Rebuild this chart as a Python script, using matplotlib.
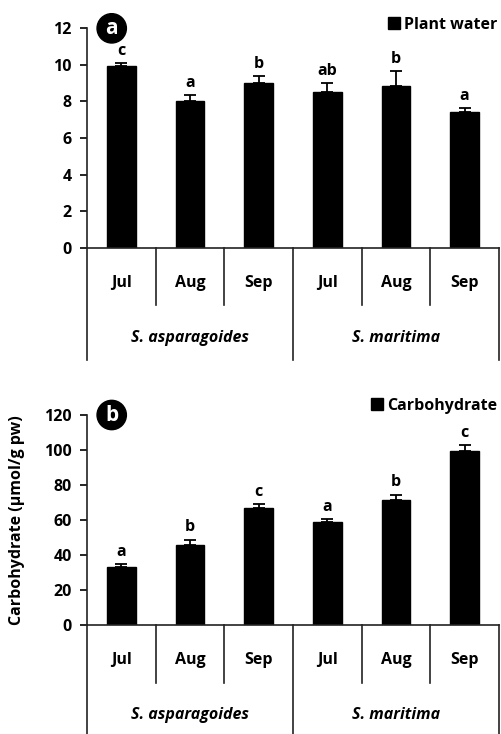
import numpy as np
import matplotlib.pyplot as plt
from matplotlib.lines import Line2D

plt.rcParams['font.family'] = ['Open Sans', 'DejaVu Sans']
plt.rcParams['font.weight'] = 'bold'

months = ['Jul', 'Aug', 'Sep', 'Jul', 'Aug', 'Sep']
species = ['S. asparagoides', 'S. maritima']

water = [9.93, 8.05, 9.0, 8.5, 8.85, 7.45]
water_err = [0.15, 0.3, 0.4, 0.5, 0.8, 0.2]
water_letters = ['c', 'a', 'b', 'ab', 'b', 'a']

carb = [33.2, 45.6, 67.0, 58.6, 71.2, 99.5]
carb_err = [1.6, 3.2, 2.0, 1.8, 3.3, 3.2]
carb_letters = ['a', 'b', 'c', 'a', 'b', 'c']


def panel(ax, vals, errs, letters, ymax, step, tag, legend_label, leg_pos,
          month_sep, species_sep, month_y, species_y):
    x = np.arange(len(vals))
    ax.bar(x, vals, width=0.42, color='black', edgecolor='black', zorder=2)
    ax.errorbar(x, vals, yerr=[np.zeros(len(errs)), errs], fmt='none',
                ecolor='black', elinewidth=1.3, capsize=4, capthick=1.3, zorder=3)
    for xi, v, e, t in zip(x, vals, errs, letters):
        ax.annotate(t, (xi, v + e), xytext=(0, 3), textcoords='offset points',
                    ha='center', va='bottom', fontsize=11.5, fontweight='bold')

    ax.set_xlim(-0.5, 5.5)
    ax.set_ylim(0, ymax)
    ax.set_yticks(np.arange(0, ymax + 0.1, step))
    ax.tick_params(axis='y', direction='out', length=5, width=1.2,
                   labelsize=11.5, pad=6)
    for lab in ax.get_yticklabels():
        lab.set_fontweight('bold')
    ax.set_xticks([])
    for s in ['top', 'right']:
        ax.spines[s].set_visible(False)
    ax.spines['left'].set_linewidth(1.2)
    ax.spines['bottom'].set_linewidth(1.2)
    ax.spines['left'].set_color('#222222')
    ax.spines['bottom'].set_color('#222222')

    # category table under the axis
    trans = ax.get_xaxis_transform()
    for xs in [0.5, 1.5, 3.5, 4.5]:
        ax.plot([xs, xs], [0, month_sep], color='#222222', lw=1.2,
                transform=trans, clip_on=False)
    for xs in [-0.5, 2.5, 5.5]:
        ax.plot([xs, xs], [0, species_sep], color='#222222', lw=1.2,
                transform=trans, clip_on=False)
    for xi, m in zip(x, months):
        ax.text(xi, month_y, m, transform=trans, ha='center', va='center',
                fontsize=11.5, fontweight='bold')
    for xi, sp in zip([1, 4], species):
        ax.text(xi, species_y, sp, transform=trans, ha='center', va='center',
                fontsize=11.5, fontweight='bold', style='italic')

    # panel tag in a black disc
    ax.text(0.06, 1.0, tag, transform=ax.transAxes, ha='center', va='center',
            color='white', fontsize=15, fontweight='bold',
            bbox=dict(boxstyle='circle,pad=0.2', fc='black', ec='black'))

    h = Line2D([], [], marker='s', color='black', ls='none', markersize=8)
    ax.legend([h], [legend_label], loc='center right', bbox_to_anchor=leg_pos,
              bbox_transform=ax.figure.transFigure, frameon=False,
              handletextpad=0.1, handlelength=1.0, borderaxespad=0, borderpad=0,
              prop={'weight': 'bold', 'size': 11.5})


fig = plt.figure(figsize=(5.02, 7.34), dpi=100)
ax1 = fig.add_axes([0.1733, 0.6625, 0.8207, 0.2989])
ax2 = fig.add_axes([0.1733, 0.1485, 0.8207, 0.2861])

panel(ax1, water, water_err, water_letters, 12, 2, 'a', 'Plant water',
      (0.99, 0.966), -0.261, -0.512, -0.161, -0.41)
panel(ax2, carb, carb_err, carb_letters, 120, 20, 'b', 'Carbohydrate',
      (0.99, 0.447), -0.276, -0.52, -0.167, -0.429)

ax2.set_ylabel('Carbohydrate (μmol/g pw)', fontsize=11.5, fontweight='bold')
ax2.yaxis.set_label_coords(-0.15, 0.5)

fig.savefig('out.png', dpi=100)
